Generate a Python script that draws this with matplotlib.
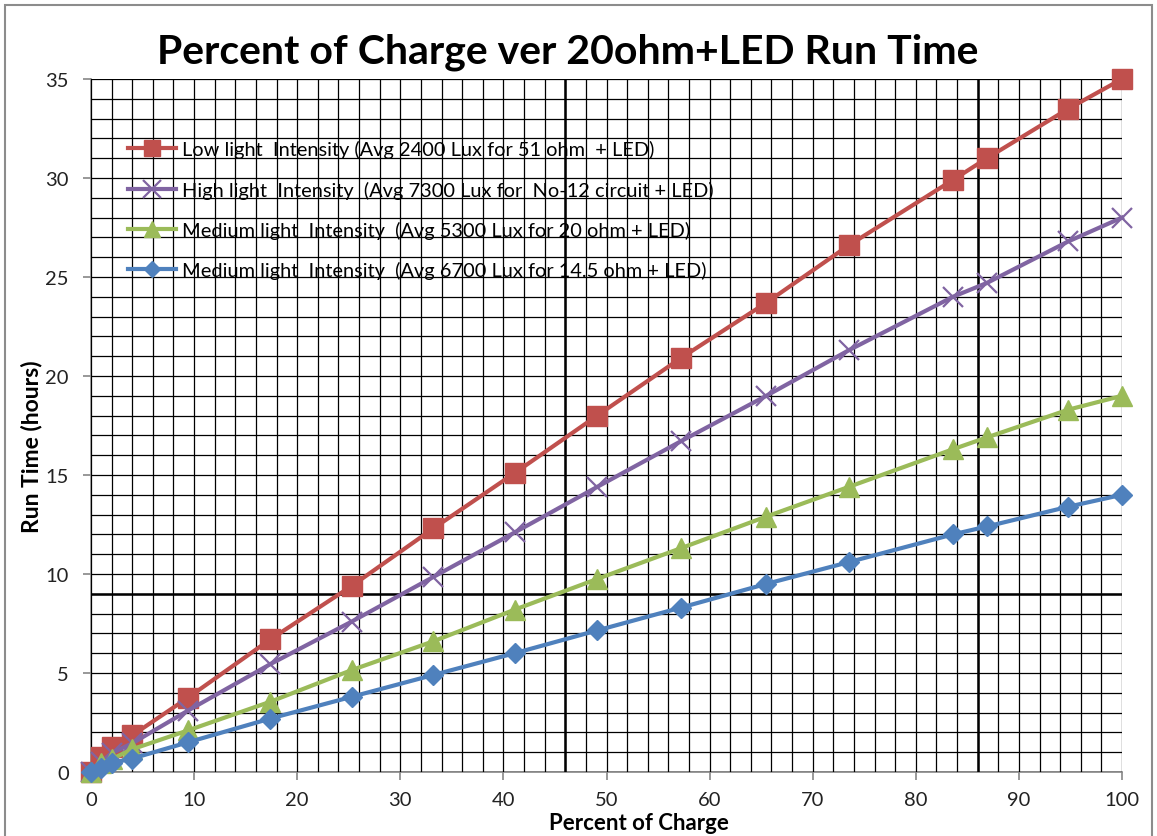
import matplotlib
matplotlib.use("Agg")
import matplotlib.pyplot as plt
from matplotlib.patches import Rectangle
import numpy as np

plt.rcParams['font.family'] = ['Lato', 'DejaVu Sans']

# ---- data ----
charge_pct = [0, 1, 2, 4, 9.4, 17.4, 25.3, 33.2, 41.1, 49.1, 57.2, 65.5, 73.5, 83.6, 86.9, 94.8, 100]
low_2400 = [0, 0.75, 1.25, 1.85, 3.75, 6.7, 9.4, 12.3, 15.1, 18.0, 20.9, 23.7, 26.6, 29.9, 31.0, 33.5, 35.0]
high_7300 = [0, 0.5, 0.95, 1.45, 3.1, 5.45, 7.6, 9.85, 12.1, 14.4, 16.7, 19.0, 21.3, 24.0, 24.7, 26.8, 28.0]
med_5300 = [0, 0.45, 0.65, 1.15, 2.1, 3.55, 5.15, 6.6, 8.2, 9.75, 11.3, 12.9, 14.4, 16.3, 16.9, 18.3, 19.0]
med_6700 = [0, 0.2, 0.45, 0.68, 1.5, 2.7, 3.8, 4.9, 6.0, 7.15, 8.3, 9.5, 10.6, 12.0, 12.4, 13.4, 14.0]

labels = [
    "Low light  Intensity (Avg 2400 Lux for 51 ohm  + LED)",
    "High light  Intensity  (Avg 7300 Lux for  No-12 circuit + LED)",
    "Medium light  Intensity  (Avg 5300 Lux for 20 ohm + LED)",
    "Medium light  Intensity  (Avg 6700 Lux for 14.5 ohm + LED)",
]
x_ticks = [0, 10, 20, 30, 40, 50, 60, 70, 80, 90, 100]
y_ticks = [0, 5, 10, 15, 20, 25, 30, 35]
ref_x = [46, 86]
ref_y = [9]

W, H = 1157, 837
fig = plt.figure(figsize=(W / 100, H / 100), dpi=100)
L, R, T, B = 91, 1122, 80, 773
ax = fig.add_axes([L / W, 1 - B / H, (R - L) / W, (B - T) / H])

# outer frame
fig.patches.append(Rectangle((5 / W, -0.05), 1147 / W, 1 - 6 / H + 0.05,
                             transform=fig.transFigure, fill=False,
                             edgecolor='#8c8c8c', lw=1.5))

ax.set_xlim(0, 100)
ax.set_ylim(0, 35)

# grid
for gx in np.arange(0, 101, 2):
    ax.axvline(gx, color='black', lw=0.9, zorder=1)
for gy in np.arange(0, 36, 1):
    ax.axhline(gy, color='black', lw=0.9, zorder=1)
for gx in ref_x:
    ax.axvline(gx, color='black', lw=1.8, zorder=1)
for gy in ref_y:
    ax.axhline(gy, color='black', lw=1.8, zorder=1)

ax.plot(charge_pct, low_2400, color='#C0504D', lw=3.0, marker='s', ms=14,
        label=labels[0], zorder=3, clip_on=False)
ax.plot(charge_pct, high_7300, color='#8064A2', lw=3.0, marker='x', ms=15,
        mew=1.6, label=labels[1], zorder=3, clip_on=False)
ax.plot(charge_pct, med_5300, color='#9BBB59', lw=3.0, marker='^', ms=14,
        label=labels[2], zorder=3, clip_on=False)
ax.plot(charge_pct, med_6700, color='#4F81BD', lw=3.0, marker='D', ms=10,
        label=labels[3], zorder=3, clip_on=False)

for s in ['top', 'right']:
    ax.spines[s].set_visible(False)
for s in ['left', 'bottom']:
    ax.spines[s].set_color('#868686')
    ax.spines[s].set_linewidth(1.2)
    ax.spines[s].set_zorder(0.5)

ax.set_xticks(x_ticks)
ax.set_yticks(y_ticks)
ax.tick_params(axis='both', direction='out', length=6, width=1.2, color='#868686',
               labelsize=14.5, labelcolor='#222222')
ax.tick_params(axis='y', pad=10)
ax.tick_params(axis='x', pad=8)

fig.text(568 / W, 1 - 52 / H, "Percent of Charge ver 20ohm+LED Run Time",
         ha='center', va='center', fontsize=29.5, fontweight='bold')
fig.text(639 / W, 1 - 824 / H, "Percent of Charge", ha='center', va='center',
         fontsize=16, fontweight='bold')
fig.text(32 / W, 1 - 447 / H, "Run Time (hours)", ha='center', va='center',
         fontsize=16.5, fontweight='bold', rotation=90)

leg = ax.legend(loc='upper left', bbox_to_anchor=(128 / W, 1 - 141 / H),
                bbox_transform=fig.transFigure, frameon=False, fontsize=14.4,
                handlelength=2.4, handletextpad=0.3, labelspacing=1.12,
                borderpad=0, borderaxespad=0, numpoints=1, markerscale=0.85)

fig.savefig("out.png", dpi=100)
